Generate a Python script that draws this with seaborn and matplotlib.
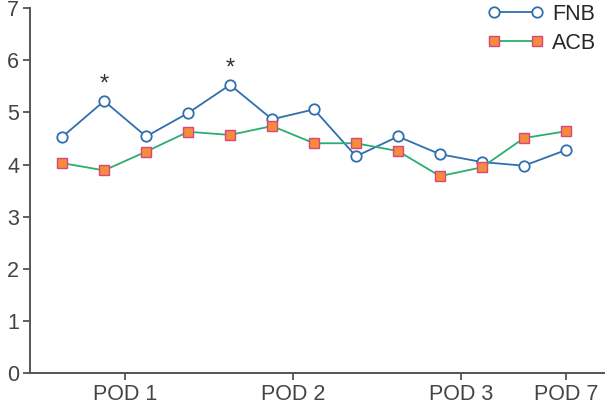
import pandas as pd
import matplotlib.pyplot as plt
import seaborn as sns

# values, 13 time points
fnb = [4.53, 5.22, 4.54, 4.99, 5.53, 4.87, 5.06, 4.16, 4.54, 4.20, 4.05, 3.98, 4.28]
acb = [4.03, 3.89, 4.25, 4.63, 4.57, 4.74, 4.41, 4.41, 4.26, 3.78, 3.95, 4.51, 4.64]
tick_pos = [1.5, 5.5, 9.5, 12]
tick_labels = ['POD 1', 'POD 2', 'POD 3', 'POD 7']
star_idx = [1, 4]

df = pd.DataFrame({'t': range(len(fnb)), 'FNB': fnb, 'ACB': acb})

sns.set_style('ticks')
plt.rcParams['font.family'] = ['Liberation Sans', 'DejaVu Sans']

fig = plt.figure(figsize=(6.05, 4.08), dpi=100)
ax = fig.add_axes([0.05, 0.085, 0.95, 0.895])

sns.lineplot(data=df, x='t', y='FNB', ax=ax, color='#2f6fad', lw=1.3,
             marker='o', markersize=7.5, markerfacecolor='white',
             markeredgecolor='#2f6fad', markeredgewidth=1.3, label='FNB')
sns.lineplot(data=df, x='t', y='ACB', ax=ax, color='#2aae72', lw=1.3,
             marker='s', markersize=6.5, markerfacecolor='#f68b3c',
             markeredgecolor='#d8467e', markeredgewidth=1.0, label='ACB')

# significance marks
for i in star_idx:
    ax.annotate('*', (i, fnb[i]), xytext=(0, 4), textcoords='offset points',
                ha='center', va='bottom', fontsize=17, color='#333333')

ax.set_xlim(-0.76, 12.93)
ax.set_ylim(0, 7)
ax.set_xticks(tick_pos)
ax.set_xticklabels(tick_labels)
ax.set_yticks(range(8))
ax.set_xlabel('')
ax.set_ylabel('')
ax.tick_params(labelsize=15.5, colors='#444444', length=5, width=1.2, pad=3)
for s in ['left', 'bottom']:
    ax.spines[s].set_color('#555555')
    ax.spines[s].set_linewidth(1.4)
sns.despine(ax=ax)

ax.legend(loc='upper right', numpoints=2, frameon=False, fontsize=15.5,
          handlelength=2.6, handletextpad=0.4, borderaxespad=0.0,
          labelspacing=0.35, bbox_to_anchor=(1.0, 1.035))

fig.savefig('out.png', dpi=100)
